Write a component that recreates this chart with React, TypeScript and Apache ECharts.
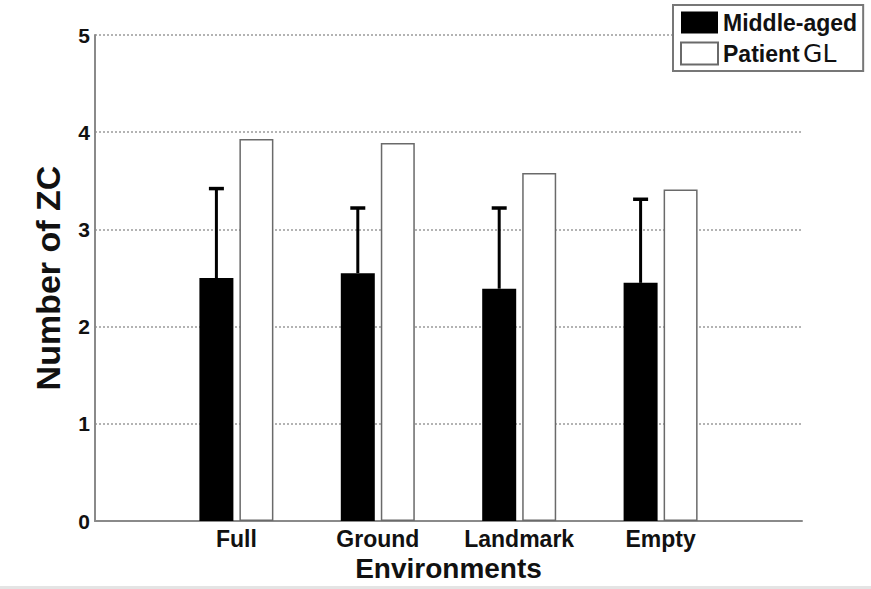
import React, { useEffect, useRef } from "react";
import * as echarts from "echarts";

const categories = ["", "Full", "Ground", "Landmark", "Empty", ""];
const middleAged = [null, 2.5, 2.55, 2.39, 2.45, null];
const middleAgedErr = [null, 0.92, 0.67, 0.83, 0.86, null];
const patientGL = [null, 3.93, 3.89, 3.58, 3.41, null];
const yTicks = [0, 1, 2, 3, 4, 5];

const FONT = 'Arial, "Liberation Sans", Helvetica, sans-serif';
const BAR_W = 34;
const BAR_GAP = 6;

export default function App() {
  const ref = useRef<HTMLDivElement>(null);
  useEffect(() => {
    if (!ref.current) return;
    const chart = echarts.init(ref.current, null, { renderer: "svg" });
    const errData = middleAged.map((v, i) =>
      v == null ? [i, null, null] : [i, v, v + (middleAgedErr[i] as number)]
    );
    chart.setOption({
      animation: false,
      backgroundColor: "#ffffff",
      grid: {
        left: 95,
        right: 69,
        top: 35,
        bottom: 68,
        containLabel: false,
        outerBoundsMode: "none",
      },
      legend: {
        orient: "vertical",
        left: 673,
        top: 5,
        icon: "rect",
        itemWidth: 37,
        itemHeight: 22,
        itemGap: 7,
        padding: [6, 6, 5, 7],
        borderColor: "#777",
        borderWidth: 2,
        backgroundColor: "#fff",
        data: ["Middle-aged", "Patient GL"],
        formatter: (name: string) =>
          name === "Patient GL" ? "{b|Patient} {n|GL}" : "{b|" + name + "}",
        textStyle: {
          fontFamily: FONT,
          rich: {
            b: { fontSize: 23, fontWeight: "bold", color: "#111", fontFamily: FONT },
            n: { fontSize: 25, fontWeight: "normal", color: "#111", fontFamily: '"DejaVu Sans", sans-serif' },
          },
        },
      },
      xAxis: {
        type: "category",
        data: categories,
        boundaryGap: false,
        axisLine: { show: true, lineStyle: { color: "#8a8a8a", width: 2 } },
        axisTick: { show: false },
        axisLabel: {
          interval: 0,
          margin: 6,
          fontSize: 23,
          fontWeight: "bold",
          color: "#111",
          fontFamily: FONT,
        },
        splitLine: { show: false },
        name: "Environments",
        nameLocation: "middle",
        nameGap: 32,
        nameTextStyle: { fontSize: 28, fontWeight: "bold", color: "#111", fontFamily: FONT },
      },
      yAxis: {
        type: "value",
        min: yTicks[0],
        max: yTicks[yTicks.length - 1],
        interval: 1,
        axisLine: { show: true, lineStyle: { color: "#8a8a8a", width: 2 } },
        axisTick: { show: false },
        axisLabel: { margin: 5, fontSize: 21, fontWeight: "bold", color: "#111", fontFamily: FONT },
        splitLine: { show: true, lineStyle: { color: "#9a9a9a", type: [2, 2], width: 1.5 } },
        name: "Number of ZC",
        nameLocation: "middle",
        nameGap: 30,
        nameRotate: 90,
        nameTextStyle: { fontSize: 34, fontWeight: "bold", color: "#111", fontFamily: FONT },
      },
      series: [
        {
          name: "Middle-aged",
          type: "bar",
          data: middleAged,
          barWidth: BAR_W,
          barGap: (BAR_GAP / BAR_W) * 100 + "%",
          itemStyle: { color: "#000", borderColor: "#000", borderWidth: 0 },
          z: 2,
        },
        {
          name: "Patient GL",
          type: "bar",
          data: patientGL,
          barWidth: BAR_W,
          itemStyle: { color: "#fff", borderColor: "#6a6a6a", borderWidth: 1.5 },
          z: 2,
        },
        {
          name: "err",
          type: "custom",
          data: errData,
          z: 3,
          renderItem: (params: any, api: any) => {
            const lo = api.value(1);
            const hi = api.value(2);
            if (lo == null || isNaN(lo)) return null;
            const p0 = api.coord([api.value(0), lo]);
            const p1 = api.coord([api.value(0), hi]);
            const x = p0[0] - (BAR_W + BAR_GAP) / 2;
            const capHalf = 7.5;
            return {
              type: "group",
              children: [
                {
                  type: "line",
                  shape: { x1: x, y1: p0[1], x2: x, y2: p1[1] },
                  style: { stroke: "#000", lineWidth: 3 },
                },
                {
                  type: "line",
                  shape: { x1: x - capHalf, y1: p1[1], x2: x + capHalf, y2: p1[1] },
                  style: { stroke: "#000", lineWidth: 3.5 },
                },
              ],
            };
          },
          encode: { x: 0, y: [1, 2] },
          silent: true,
        },
      ],
      graphic: [
        {
          type: "rect",
          left: 0,
          bottom: 0,
          shape: { width: 871, height: 3 },
          style: { fill: "#e4e4e4" },
          silent: true,
        },
      ],
    });
    return () => chart.dispose();
  }, []);
  return (
    <div
      ref={ref}
      style={{ position: "fixed", left: 0, top: 0, width: 871, height: 589, background: "#fff" }}
    />
  );
}
